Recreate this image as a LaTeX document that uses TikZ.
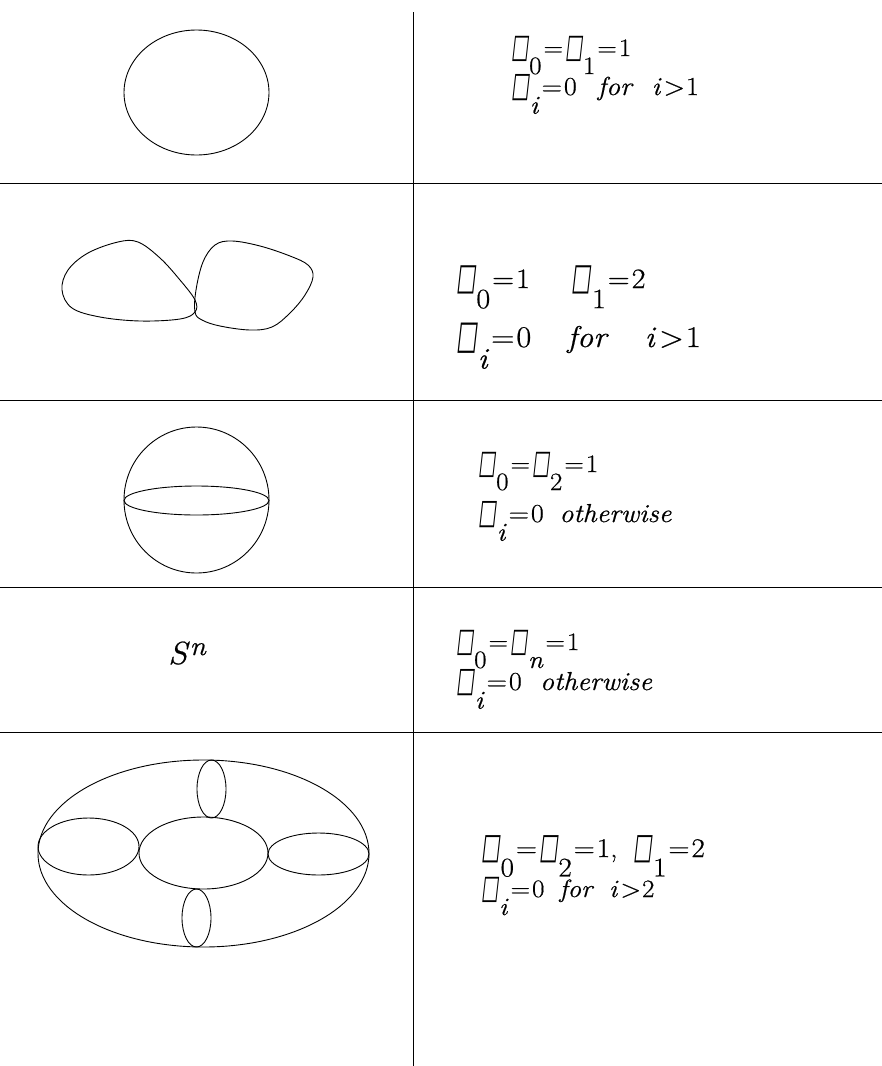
\documentclass[tikz,border=0pt]{standalone}
\usepackage{fontspec}
\usepackage{graphicx}
\newfontfamily\tms[FakeStretch=1.08,FakeBold=0.6]{Latin Modern Roman}
\newfontfamily\bxf[FakeSlant=0.2]{DejaVu Sans}
\newcommand{\bt}[1]{\raisebox{-0.06em}{\scalebox{0.74}[1.32]{\bxf\symbol{"25A1}}}\kern0.02em\raisebox{-0.72em}{#1}}
\newcommand{\fsz}[1]{\fontsize{#1}{#1}\selectfont}
\newcommand{\eq}{\kern2pt=\kern2pt}
\begin{document}
\begin{tikzpicture}[x=1pt,y=-1pt]
\tikzset{
  rule/.style={line width=1pt},
  curve/.style={line width=0.9pt},
  lbl/.style={anchor=base west, inner sep=0pt, font=\tms}
}
\useasboundingbox (0,0) rectangle (882,1066);
% grid lines
\coordinate (vt) at (413,12);
\coordinate (vb) at (413,1066);
\draw[rule] (vt) -- (vb);
\coordinate (h1l) at (0,183); \coordinate (h1r) at (882,183);
\coordinate (h2l) at (0,400); \coordinate (h2r) at (882,400);
\coordinate (h3l) at (0,587); \coordinate (h3r) at (882,587);
\coordinate (h4l) at (0,732); \coordinate (h4r) at (882,732);
\draw[rule] (h1l) -- (h1r);
\draw[rule] (h2l) -- (h2r);
\draw[rule] (h3l) -- (h3r);
\draw[rule] (h4l) -- (h4r);
% row 1: circle
\draw[curve] (196.5,92.5) ellipse [x radius=72.5, y radius=62.5];
% row 2: two blobs
\draw[curve] plot[smooth cycle, tension=0.6] coordinates {
  (195,300) (180,280) (160,258) (138,242) (118,242) (88,253) (68,270) (62,290)
  (72,308) (100,317) (140,321) (180,319) (195,312)};
\draw[curve] plot[smooth cycle, tension=0.6] coordinates {
  (195,312) (196,290) (203,262) (215,245) (232,241) (260,246) (290,256) (308,265)
  (313,277) (305,295) (290,313) (272,327) (250,330) (220,326) (202,320)};
% row 3: sphere
\draw[curve] (196.5,500) ellipse [x radius=72.5, y radius=73];
\draw[curve] (196.5,500.5) ellipse [x radius=72.5, y radius=14.5];
% row 4: S^n
\node[lbl] (sn) at (168,664) {\fsz{32}\textit{S}\raisebox{0.28em}{\fsz{27}\textit{n}}};
% row 5: torus
\draw[curve] (203.5,853.5) ellipse [x radius=165.5, y radius=93.5];
\draw[curve] (88.5,846.5) ellipse [x radius=50.5, y radius=28.5];
\draw[curve] (203.5,853) ellipse [x radius=64.5, y radius=36];
\draw[curve] (318.5,854) ellipse [x radius=50.5, y radius=21];
\draw[curve] (211.5,789) ellipse [x radius=14.5, y radius=29];
\draw[curve] (196.5,918) ellipse [x radius=14.5, y radius=29];
% texts
\node[lbl] (r1a) at (511,56) {\fsz{25}\bt{0}\eq\bt{1}\eq1};
\node[lbl] (r1b) at (511,95) {\fsz{26}\bt{\textit{i}}\eq0\hspace{0.8em}\textit{for}\hspace{0.7em}\textit{i}\kern2pt>\kern1pt1};
\node[lbl] (r2a) at (456,288) {\fsz{28}\bt{0}\eq1\hspace{1.5em}\bt{1}\eq2};
\node[lbl] (r2b) at (456,347) {\fsz{30}\bt{\textit{i}}\eq0\hspace{1.2em}\textit{for}\hspace{1.2em}\textit{i}\kern3pt>\kern2pt1};
\node[lbl] (r3a) at (478,472) {\fsz{25}\bt{0}\eq\bt{2}\eq1};
\node[lbl] (r3b) at (478,522) {\fsz{26}\bt{\textit{i}}\eq0\hspace{0.6em}\textit{otherwise}};
\node[lbl] (r4a) at (456,650) {\fsz{25}\bt{0}\eq\bt{\textit{n}}\eq1};
\node[lbl] (r4b) at (456,690) {\fsz{26}\bt{\textit{i}}\eq0\hspace{0.7em}\textit{otherwise}};
\node[lbl] (r5a) at (481,857) {\fsz{27}\bt{0}\eq\bt{2}\eq1,\hspace{0.6em}\bt{1}\eq2};
\node[lbl] (r5b) at (481,897) {\fsz{25}\bt{\textit{i}}\eq0\hspace{0.6em}\textit{for}\hspace{0.6em}\textit{i}\kern2pt>\kern1pt2};
\end{tikzpicture}
\end{document}
